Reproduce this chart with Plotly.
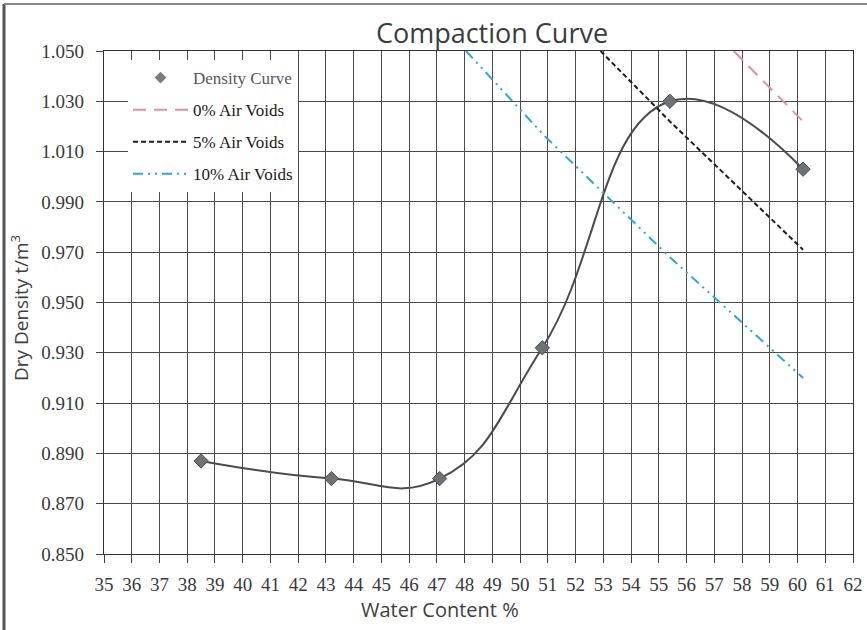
import plotly.graph_objects as go

# ---- data ----
water_content = [38.5, 43.2, 47.1, 50.8, 55.4, 60.2]
dry_density = [0.887, 0.880, 0.880, 0.932, 1.030, 1.003]

av0_x = [57.7, 60.2]
av0_y = [1.050, 1.022]

av5_x = [52.9, 55.4, 60.2]
av5_y = [1.050, 1.022, 0.971]

av10_x = [48.05, 50.9, 55.4, 60.2]
av10_y = [1.050, 1.016, 0.968, 0.920]

x_ticks = list(range(35, 63))
y_ticks = [0.85 + 0.02 * i for i in range(11)]

W, H = 867, 630
L, R, T, B = 104, 14, 51, 76
PW, PH = W - L - R, H - T - B


def px_x(p):
    return (p - L) / PW


def px_y(p):
    return 1 - (p - T) / PH


serif = "Liberation Serif"
sans = "Open Sans"

fig = go.Figure()

# density curve (line + markers), legend shows marker only
fig.add_trace(go.Scatter(
    x=water_content, y=dry_density, mode="lines+markers",
    line=dict(color="#484b50", width=2, shape="spline", smoothing=1.3),
    marker=dict(symbol="diamond", size=11, color="#6e7176",
                line=dict(color="#4a4d52", width=1)),
    showlegend=False, cliponaxis=True,
))
fig.add_trace(go.Scatter(
    x=[None], y=[None], mode="markers",
    name="<span style='color:#55595e'>Density Curve</span>",
    marker=dict(symbol="diamond", size=9, color="#7a7d82"),
    legendgroup="a",
))
fig.add_trace(go.Scatter(
    x=av0_x, y=av0_y, mode="lines", name="0% Air Voids",
    line=dict(color="#e88aa6", width=2, dash="13px,8px"),
    legendgroup="b",
))
fig.add_trace(go.Scatter(
    x=av5_x, y=av5_y, mode="lines", name="5% Air Voids",
    line=dict(color="#1e1e1e", width=2, dash="5px,3px"),
    legendgroup="c",
))
fig.add_trace(go.Scatter(
    x=av10_x, y=av10_y, mode="lines", name="10% Air Voids",
    line=dict(color="#2aa6e2", width=2, dash="10px,5px,2px,5px,2px,5px"),
    legendgroup="d",
))

grid_col = "#4a4a4a"

fig.update_xaxes(
    range=[35, 62], tickmode="array", tickvals=x_ticks,
    ticktext=[str(v) for v in x_ticks], automargin=False,
    showgrid=True, gridcolor=grid_col, gridwidth=1.4,
    showline=True, linecolor="#333", linewidth=1.4, mirror=True,
    ticks="outside", ticklen=8, tickcolor="#444", tickwidth=1.2,
    tickfont=dict(family=serif, size=19, color="#3a3a3a"),
    ticklabelstandoff=5, zeroline=False, fixedrange=True,
)
fig.update_yaxes(
    range=[0.85, 1.05], tickmode="array", tickvals=y_ticks,
    ticktext=["%.3f" % v for v in y_ticks], automargin=False,
    showgrid=True, gridcolor=grid_col, gridwidth=1.4,
    showline=True, linecolor="#333", linewidth=1.4, mirror=True,
    ticks="outside", ticklen=7, tickcolor="#444", tickwidth=1.2,
    tickfont=dict(family=serif, size=19, color="#3a3a3a"),
    ticklabelstandoff=8, zeroline=False, fixedrange=True,
)

fig.update_layout(
    width=W, height=H,
    margin=dict(l=L, r=R, t=T, b=B, pad=0),
    paper_bgcolor="white", plot_bgcolor="white",
    title=dict(text="Compaction Curve", x=492 / W, xanchor="center",
               y=1 - 34 / H, yanchor="middle",
               font=dict(family=sans, size=27, color="#3a3d40")),
    legend=dict(x=px_x(128), y=px_y(60), xanchor="left", yanchor="top",
                bgcolor="white", borderwidth=0, itemwidth=55,
                traceorder="grouped", tracegroupgap=7,
                font=dict(family=serif, size=17, color="#1a1a1a")),
    annotations=[
        dict(text="Water Content %", xref="paper", yref="paper",
             x=px_x(440), y=px_y(609), xanchor="center", yanchor="middle",
             showarrow=False, font=dict(family=sans, size=20, color="#404040")),
        dict(text="Dry Density t/m<sup>3</sup>", xref="paper", yref="paper",
             x=px_x(20), y=px_y(308), xanchor="center", yanchor="middle",
             textangle=-90, showarrow=False,
             font=dict(family=sans, size=19, color="#404040")),
    ],
    shapes=[
        dict(type="line", xref="paper", yref="paper",
             x0=px_x(4), x1=px_x(4), y0=px_y(H), y1=px_y(4),
             line=dict(color="#555", width=3)),
        dict(type="line", xref="paper", yref="paper",
             x0=px_x(4), x1=px_x(W), y0=px_y(4), y1=px_y(4),
             line=dict(color="#888", width=2)),
    ],
)

fig.write_html("out.html")
